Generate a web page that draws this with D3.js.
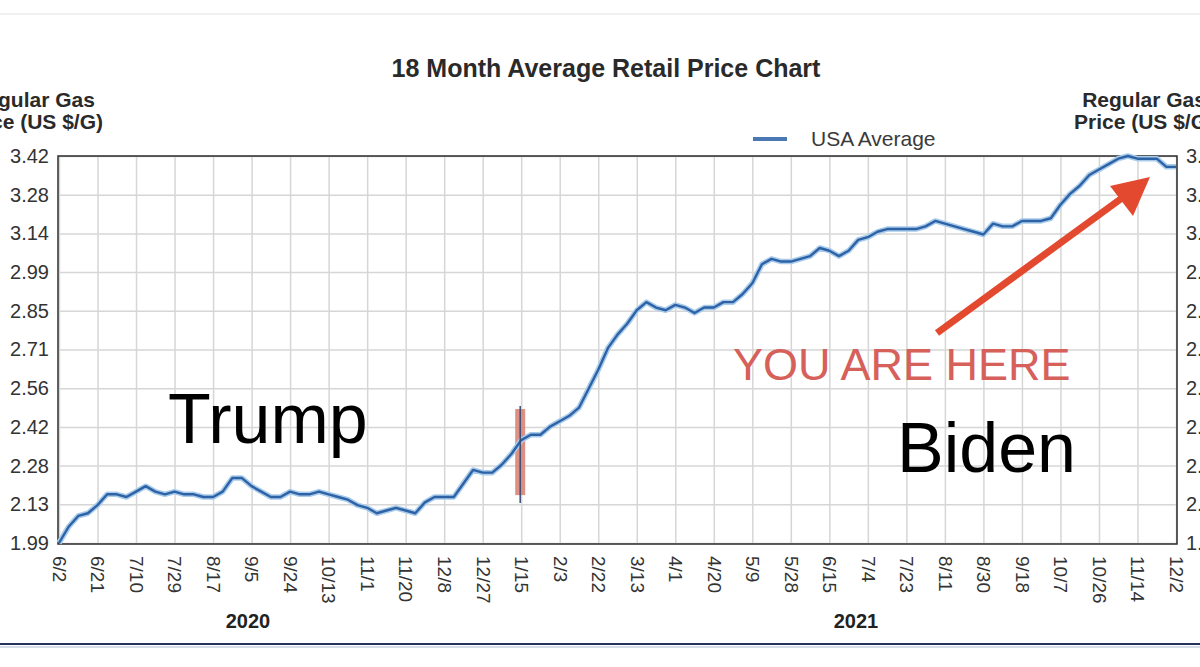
<!DOCTYPE html>
<html>
<head>
<meta charset="utf-8">
<script src="https://cdn.jsdelivr.net/npm/d3@7"></script>
<style>
  body { margin: 0; background: #fff; }
  svg { display: block; font-family: "Liberation Sans", Arial, sans-serif; }
</style>
</head>
<body>
<div id="chart"></div>
<script>
// x tick labels (every 19 days, Jun 2020 - Dec 2021)
const dateLabels = ["6/2","6/21","7/10","7/29","8/17","9/5","9/24","10/13","11/1","11/20",
  "12/8","12/27","1/15","2/3","2/22","3/13","4/1","4/20","5/9","5/28",
  "6/15","7/4","7/23","8/11","8/30","9/18","10/7","10/26","11/14","12/2"];

const priceLabels = ["1.99","2.13","2.28","2.42","2.56","2.71","2.85","2.99","3.14","3.28","3.42"];

const yearLabels = ["2020", "2021"];

// USA average regular gas price, 4 readings per tick interval
const usaAverage = [
  1.99, 2.05, 2.09, 2.10, 2.13, 2.17, 2.17, 2.16, 2.18, 2.20,
  2.18, 2.17, 2.18, 2.17, 2.17, 2.16, 2.16, 2.18, 2.23, 2.23,
  2.20, 2.18, 2.16, 2.16, 2.18, 2.17, 2.17, 2.18, 2.17, 2.16,
  2.15, 2.13, 2.12, 2.10, 2.11, 2.12, 2.11, 2.10, 2.14, 2.16,
  2.16, 2.16, 2.21, 2.26, 2.25, 2.25, 2.28, 2.32, 2.37, 2.39,
  2.39, 2.42, 2.44, 2.46, 2.49, 2.56, 2.63, 2.71, 2.76, 2.80,
  2.85, 2.88, 2.86, 2.85, 2.87, 2.86, 2.84, 2.86, 2.86, 2.88,
  2.88, 2.91, 2.95, 3.02, 3.04, 3.03, 3.03, 3.04, 3.05, 3.08,
  3.07, 3.05, 3.07, 3.11, 3.12, 3.14, 3.15, 3.15, 3.15, 3.15,
  3.16, 3.18, 3.17, 3.16, 3.15, 3.14, 3.13, 3.17, 3.16, 3.16,
  3.18, 3.18, 3.18, 3.19, 3.24, 3.28, 3.31, 3.35, 3.37, 3.39,
  3.41, 3.42, 3.41, 3.41, 3.41, 3.38, 3.38
];
const perTick = 4;

const inaugurationIdx = 12;   // marker drawn on 1/15 - 1/20 week

const width = 1200, height = 667;
const plotLeft = 59, plotRight = 1176, plotTop = 156, plotBottom = 543;

const svg = d3.select("#chart").append("svg")
  .attr("width", width)
  .attr("height", height)
  .attr("viewBox", [0, 0, width, height]);

const x = d3.scaleLinear()
  .domain([0, dateLabels.length - 1])
  .range([plotLeft, plotRight]);

const step = (3.42 - 1.99) / (priceLabels.length - 1);
const yTicks = priceLabels.map((_, i) => 1.99 + i * step);

const y = d3.scaleLinear()
  .domain([1.99, 3.42])
  .range([plotBottom, plotTop]);

// page frame lines
svg.append("line").attr("x1", 0).attr("x2", width).attr("y1", 14).attr("y2", 14)
  .attr("stroke", "#e2e2e2");
svg.append("line").attr("x1", 0).attr("x2", width).attr("y1", 644).attr("y2", 644)
  .attr("stroke", "#22315e").attr("stroke-width", 2);
svg.append("line").attr("x1", 0).attr("x2", width).attr("y1", 647).attr("y2", 647)
  .attr("stroke", "#c9d2e3").attr("stroke-width", 1.5);

// grid
svg.append("g")
  .attr("transform", `translate(0,${plotBottom})`)
  .call(d3.axisBottom(x).tickValues(d3.range(dateLabels.length)).tickSize(-(plotBottom - plotTop)).tickFormat(""))
  .call(g => g.select(".domain").remove())
  .call(g => g.selectAll(".tick line").attr("stroke", "#d6d6d6").attr("stroke-width", 1.5));

svg.append("g")
  .attr("transform", `translate(${plotLeft},0)`)
  .call(d3.axisLeft(y).tickValues(yTicks).tickSize(-(plotRight - plotLeft)).tickFormat(""))
  .call(g => g.select(".domain").remove())
  .call(g => g.selectAll(".tick line").attr("stroke", "#d6d6d6").attr("stroke-width", 1.5));

// y labels left and right (right side is cropped in the source)
svg.append("g")
  .attr("transform", `translate(${plotLeft},0)`)
  .call(d3.axisLeft(y).tickValues(yTicks).tickSize(0).tickPadding(10).tickFormat((d, i) => priceLabels[i]))
  .call(g => g.select(".domain").remove())
  .call(g => g.selectAll("text").attr("font-size", 20).attr("fill", "#333")
    .attr("font-family", "Liberation Sans, Arial, sans-serif"));

svg.append("g")
  .attr("transform", `translate(${plotRight},0)`)
  .call(d3.axisRight(y).tickValues(yTicks).tickSize(0).tickPadding(10).tickFormat((d, i) => priceLabels[i]))
  .call(g => g.select(".domain").remove())
  .call(g => g.selectAll("text").attr("font-size", 20).attr("fill", "#333")
    .attr("font-family", "Liberation Sans, Arial, sans-serif"));

// x labels, rotated
svg.append("g")
  .attr("transform", `translate(0,${plotBottom})`)
  .call(d3.axisBottom(x).tickValues(d3.range(dateLabels.length)).tickSize(0).tickFormat(i => dateLabels[i]))
  .call(g => g.select(".domain").remove())
  .call(g => g.selectAll("text")
    .attr("transform", "rotate(90)")
    .attr("text-anchor", "start")
    .attr("x", 13).attr("y", 0).attr("dy", "0.35em")
    .attr("font-size", 19).attr("fill", "#333")
    .attr("font-family", "Liberation Sans, Arial, sans-serif"));

svg.selectAll(".year")
  .data(yearLabels)
  .join("text")
  .attr("x", (d, i) => i === 0 ? 248 : 856)
  .attr("y", 628)
  .attr("text-anchor", "middle")
  .attr("font-size", 20).attr("font-weight", "bold").attr("fill", "#222")
  .text(d => d);

// plot frame
svg.append("rect")
  .attr("x", plotLeft - 1).attr("y", plotTop)
  .attr("width", plotRight - plotLeft + 2).attr("height", plotBottom - plotTop + 1)
  .attr("fill", "none").attr("stroke", "#2b2b2b").attr("stroke-width", 1.5);

// titles
svg.append("text")
  .attr("x", 606).attr("y", 77)
  .attr("text-anchor", "middle")
  .attr("font-size", 25).attr("font-weight", "bold").attr("fill", "#2a2a2a")
  .text("18 Month Average Retail Price Chart");

[33, 1144].forEach(cx => {
  const t = svg.append("text")
    .attr("text-anchor", "middle")
    .attr("font-size", 21).attr("font-weight", "bold").attr("fill", "#2a2a2a");
  t.append("tspan").attr("x", cx).attr("y", 107).text("Regular Gas");
  t.append("tspan").attr("x", cx).attr("y", 129).text("Price (US $/G)");
});

// legend
svg.append("line").attr("x1", 753).attr("x2", 787).attr("y1", 139).attr("y2", 139)
  .attr("stroke", "#4a78b5").attr("stroke-width", 4);
svg.append("text").attr("x", 811).attr("y", 146)
  .attr("font-size", 21).attr("fill", "#3a3a3a").text("USA Average");

// inauguration marker
svg.append("rect")
  .attr("x", x(inaugurationIdx) - 6).attr("y", y(2.485))
  .attr("width", 10).attr("height", y(2.167) - y(2.485))
  .attr("fill", "#d98476").attr("opacity", 0.9);

// price line
const line = d3.line()
  .x((d, i) => x(i / perTick))
  .y(d => y(d));

svg.append("path")
  .datum(usaAverage)
  .attr("fill", "none")
  .attr("stroke", "#a9cbea")
  .attr("stroke-width", 5.5)
  .attr("stroke-linejoin", "round")
  .attr("d", line);

svg.append("path")
  .datum(usaAverage)
  .attr("fill", "none")
  .attr("stroke", "#2d62a6")
  .attr("stroke-width", 2.4)
  .attr("stroke-linejoin", "round")
  .attr("d", line);

svg.append("line")
  .attr("x1", x(inaugurationIdx) - 1).attr("x2", x(inaugurationIdx) - 1)
  .attr("y1", y(2.496)).attr("y2", y(2.138))
  .attr("stroke", "#3b4d72").attr("stroke-width", 1.5);

// annotations
svg.append("text").attr("x", 168).attr("y", 443)
  .attr("font-size", 70).attr("fill", "#000").text("Trump");
svg.append("text").attr("x", 897).attr("y", 472)
  .attr("font-size", 70).attr("fill", "#000").text("Biden");
svg.append("text").attr("x", 733).attr("y", 380)
  .attr("font-size", 45).attr("fill", "#d6605a").text("YOU ARE HERE");

// arrow
svg.append("line")
  .attr("x1", 937).attr("y1", 333).attr("x2", 1122).attr("y2", 198)
  .attr("stroke", "#e3492e").attr("stroke-width", 7);
svg.append("path")
  .attr("d", "M1150,177 L1110,186 L1133,216 Z")
  .attr("fill", "#e3492e");
</script>
</body>
</html>
